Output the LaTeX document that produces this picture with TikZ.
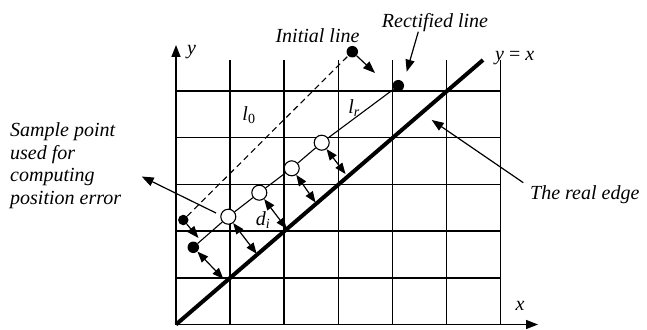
\documentclass[tikz,border=0pt]{standalone}
\usepackage{fontspec}
\setmainfont{Liberation Serif}
\usetikzlibrary{arrows.meta}
\begin{document}
\begin{tikzpicture}[x=1pt,y=-1pt,
  gridline/.style={line width=1.5pt},
  axisline/.style={line width=1.5pt,-{Triangle[length=12pt,width=9pt]}},
  edgeline/.style={line width=4pt},
  conn/.style={line width=1.1pt},
  tip/.style={line width=1.2pt,-{Triangle[length=12pt,width=9pt]}},
  dtip/.style={line width=1.2pt,{Triangle[length=11pt,width=8.5pt]}-{Triangle[length=11pt,width=8.5pt]}},
  lbl/.style={font=\fontsize{20}{22.5}\selectfont\itshape,inner sep=0pt},
  sdot/.style={circle,fill=black,inner sep=0pt,minimum size=11.5pt},
  odot/.style={circle,draw,fill=white,line width=1.1pt,inner sep=0pt,minimum size=15pt},
]
\useasboundingbox (0,0) rectangle (647,329);
% grid
\foreach \k in {1,...,6} \draw[gridline] ({176+54.1*\k},60) -- ({176+54.1*\k},324.5);
\foreach \k in {1,...,5} \draw[gridline] (176,{324.5-46.7*\k}) -- (500.6,{324.5-46.7*\k});
% axes
\coordinate (O) at (176,324.5);
\coordinate (ytop) at (176,45);
\coordinate (xend) at (538,324.5);
\draw[axisline] (O) -- (ytop);
\draw[axisline] (O) -- (xend);
\node[lbl,anchor=base west] (ylab) at (187,55) {y};
\node[lbl,anchor=base] (xlab) at (520,310) {x};
% real edge y=x
\coordinate (eend) at (483,60);
\draw[edgeline] (O) -- (eend);
\node[lbl,anchor=base west] (eqlab) at (495,60) {y {\upshape =} x};
% initial (dashed) line
\node[sdot,minimum size=10.5pt] (i0) at (183.3,220) {};
\node[sdot] (i1) at (352.3,51.7) {};
\draw[conn,dash pattern=on 6pt off 4pt] (i0) -- (i1);
% rectified line
\node[sdot] (r0) at (193.3,247.3) {};
\node[odot] (c1) at (228.3,216.7) {};
\node[odot] (c2) at (259.3,192.7) {};
\node[odot] (c3) at (291.7,168.3) {};
\node[odot] (c4) at (321.7,142.7) {};
\node[sdot] (r1) at (398.3,85.7) {};
\draw[conn] (r0) -- (c1) -- (c2) -- (c3) -- (c4) -- (r1);
% moves
\coordinate (m0) at (198.5,238);
\coordinate (m1) at (375,73);
\draw[tip] (i0) -- (m0);
\draw[tip] (i1) -- (m1);
% distances
\coordinate (e0) at (223.3,278.8);
\coordinate (e1) at (256.7,253.8);
\coordinate (e2) at (286.7,228.8);
\coordinate (e3) at (315.5,202.5);
\coordinate (e4) at (345.5,174);
\draw[dtip] (r0) -- (e0);
\draw[dtip] (c1) -- (e1);
\draw[dtip] (c2) -- (e2);
\draw[dtip] (c3) -- (e3);
\draw[dtip] (c4) -- (e4);
% labels on lines
\node[lbl,anchor=base] (l0) at (249,120) {l\textsubscript{\upshape 0}};
\node[lbl,anchor=base] (lr) at (354,113.3) {l\textsubscript{r}};
\node[lbl,anchor=base] (di) at (263,225) {d\textsubscript{i}};
% callouts
\node[lbl,anchor=base] (initlab) at (317.5,42) {Initial line};
\node[lbl,anchor=base] (rectlab) at (435,28) {Rectified line};
\coordinate (rs) at (418.3,31.7);
\coordinate (rt) at (406.7,71.7);
\draw[tip] (rs) -- (rt);
\node[lbl,anchor=base west] (edgelab) at (530,199) {The real edge};
\coordinate (es) at (523.3,182.7);
\coordinate (et) at (431.7,120);
\draw[tip] (es) -- (et);
\node[lbl,anchor=base west,align=left] (samplab) at (10,204) {Sample point\\used for\\computing\\position error};
\coordinate (ss) at (216,213);
\coordinate (st) at (141.7,176.5);
\draw[tip] (ss) -- (st);
\end{tikzpicture}
\end{document}
